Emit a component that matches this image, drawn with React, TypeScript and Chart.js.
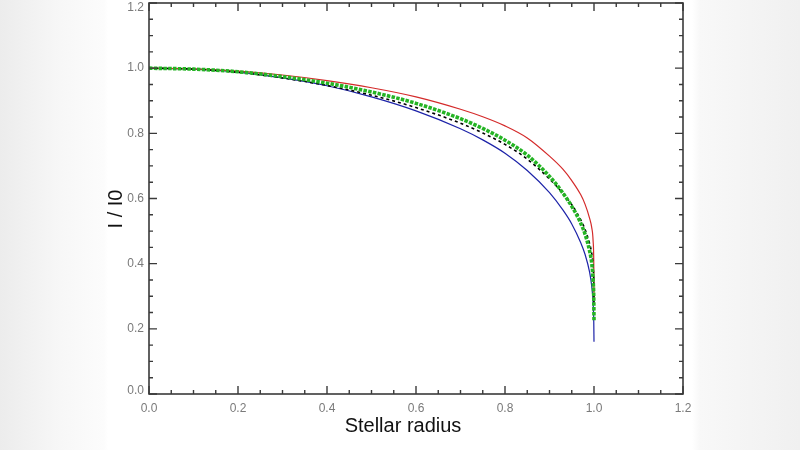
import React, { useEffect, useRef } from 'react';
import { Chart } from 'chart.js/auto';

// stellar radius (r / R*), denser near the limb where the curves turn vertical
const radius = [0, 0.1, 0.2, 0.3, 0.4, 0.5, 0.6, 0.7, 0.75, 0.8, 0.85, 0.9, 0.93, 0.95, 0.97, 0.98, 0.99, 0.995, 0.998, 0.9995, 1.0];

// I / I0
const redCurve = [1.0, 0.998, 0.991, 0.979, 0.962, 0.94, 0.912, 0.874, 0.851, 0.823, 0.786, 0.73, 0.69, 0.655, 0.612, 0.582, 0.54, 0.51, 0.47, 0.4, 0.29];
const greenCurve = [1.0, 0.997, 0.989, 0.974, 0.954, 0.927, 0.892, 0.845, 0.815, 0.779, 0.733, 0.668, 0.617, 0.576, 0.525, 0.49, 0.44, 0.4, 0.35, 0.29, 0.225];
const blackCurve = [1.0, 0.997, 0.987, 0.97, 0.947, 0.917, 0.879, 0.831, 0.801, 0.766, 0.721, 0.66, 0.616, 0.581, 0.535, 0.505, 0.462, 0.43, 0.39, 0.34, 0.28];
const blueCurve = [1.0, 0.997, 0.988, 0.97, 0.946, 0.912, 0.869, 0.814, 0.78, 0.739, 0.686, 0.618, 0.565, 0.522, 0.465, 0.428, 0.375, 0.33, 0.28, 0.22, 0.16];

const axisMin = 0;
const axisMax = 1.2;
const majorStep = 0.2;
const minorStep = 0.05;

const xTitle = 'Stellar radius';
const yTitle = 'I / I0';

const FONT = "'Liberation Sans', Arial, sans-serif";
const LABEL_COLOR = '#7a7a7a';

const toPoints = (ys: number[]) => radius.map((r, i) => ({ x: r, y: ys[i] }));
const fmt = (v: number) => v.toFixed(1);

// IDL-style box: frame plus inward ticks on all four sides, y labels and the axis titles
const idlFrame = {
    id: 'idlFrame',
    afterDatasetsDraw(chart: any) {
        const { ctx, chartArea: a, scales } = chart;
        const xs = scales.x;
        const ys = scales.y;
        ctx.save();
        ctx.strokeStyle = '#3a3a3a';
        ctx.lineWidth = 1.6;
        ctx.strokeRect(a.left, a.top, a.right - a.left, a.bottom - a.top);

        ctx.lineWidth = 1.4;
        ctx.beginPath();
        const n = Math.round((axisMax - axisMin) / minorStep);
        const every = Math.round(majorStep / minorStep);
        for (let i = 0; i <= n; i++) {
            const v = axisMin + i * minorStep;
            const len = i % every === 0 ? 8 : 4;
            const px = xs.getPixelForValue(v);
            const py = ys.getPixelForValue(v);
            ctx.moveTo(px, a.bottom);
            ctx.lineTo(px, a.bottom - len);
            ctx.moveTo(px, a.top);
            ctx.lineTo(px, a.top + len);
            ctx.moveTo(a.left, py);
            ctx.lineTo(a.left + len, py);
            ctx.moveTo(a.right, py);
            ctx.lineTo(a.right - len, py);
        }
        ctx.stroke();

        // y tick labels, the end ones kept inside the canvas as in the original
        ctx.fillStyle = LABEL_COLOR;
        ctx.font = `12px ${FONT}`;
        ctx.textAlign = 'right';
        ctx.textBaseline = 'middle';
        for (let i = 0; i <= n; i += every) {
            const v = axisMin + i * minorStep;
            const py = Math.min(Math.max(ys.getPixelForValue(v), 8), 391);
            ctx.fillText(fmt(v), a.left - 5, py);
        }

        ctx.fillStyle = '#111';
        ctx.font = `20px ${FONT}`;
        ctx.textAlign = 'center';
        ctx.fillText(xTitle, 403, 426);
        ctx.translate(116, 209);
        ctx.rotate(-Math.PI / 2);
        ctx.fillText(yTitle, 0, 0);
        ctx.restore();
    },
};

export default function App() {
    const canvasRef = useRef<HTMLCanvasElement>(null);

    useEffect(() => {
        if (!canvasRef.current) return;
        const chart = new Chart(canvasRef.current, {
            type: 'line',
            data: {
                datasets: [
                    {
                        label: 'green',
                        data: toPoints(greenCurve),
                        borderColor: '#24b424',
                        borderWidth: 3.6,
                        borderDash: [3.5, 1.3],
                    },
                    {
                        label: 'black',
                        data: toPoints(blackCurve),
                        borderColor: '#000',
                        borderWidth: 1.6,
                        borderDash: [3, 3],
                    },
                    {
                        label: 'red',
                        data: toPoints(redCurve),
                        borderColor: '#d42a2a',
                        borderWidth: 1.2,
                    },
                    {
                        label: 'blue',
                        data: toPoints(blueCurve),
                        borderColor: '#1c22a8',
                        borderWidth: 1.2,
                    },
                ],
            },
            options: {
                animation: false,
                responsive: true,
                maintainAspectRatio: false,
                elements: { point: { radius: 0 }, line: { cubicInterpolationMode: 'monotone' } },
                layout: { padding: { left: 0, right: 117, top: 3, bottom: 0 } },
                plugins: { legend: { display: false }, tooltip: { enabled: false } },
                scales: {
                    x: {
                        type: 'linear',
                        min: axisMin,
                        max: axisMax,
                        grid: { display: false, drawTicks: false },
                        border: { display: false },
                        ticks: {
                            stepSize: majorStep,
                            autoSkip: false,
                            maxRotation: 0,
                            color: LABEL_COLOR,
                            font: { family: FONT, size: 12 },
                            padding: 7,
                            callback: (v: any) => fmt(Number(v)),
                        },
                        afterFit: (s: any) => {
                            s.height = 56;
                            s.paddingLeft = 0;
                            s.paddingRight = 0;
                        },
                    },
                    y: {
                        type: 'linear',
                        min: axisMin,
                        max: axisMax,
                        grid: { display: false, drawTicks: false },
                        border: { display: false },
                        ticks: { display: false, stepSize: majorStep },
                        afterFit: (s: any) => {
                            s.width = 149;
                            s.paddingTop = 0;
                            s.paddingBottom = 0;
                        },
                    },
                },
            },
            plugins: [idlFrame],
        });
        return () => chart.destroy();
    }, []);

    return (
        <div
            style={{
                position: 'fixed',
                left: 0,
                top: 0,
                width: 800,
                height: 450,
                background:
                    'linear-gradient(to right, #ececec 0px, #f7f7f7 60px, #fcfcfc 104px, #fff 108px, #fff 692px, #f8f8f8 700px, #f0f0f0 800px)',
            }}
        >
            <canvas ref={canvasRef}></canvas>
        </div>
    );
}
